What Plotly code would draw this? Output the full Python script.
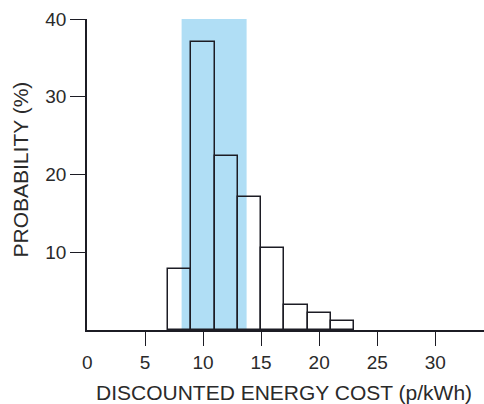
import plotly.graph_objects as go

# Data
bin_starts = [7, 9, 11, 13, 15, 17, 19, 21]
bin_width = 2
probability = [7.8, 37.0, 22.4, 17.1, 10.5, 3.2, 2.2, 1.1]
shade_range = [8.15, 13.75]
x_ticks = [5, 10, 15, 20, 25, 30]
y_ticks = [10, 20, 30, 40]

centers = [s + bin_width / 2 for s in bin_starts]

font_family = "Liberation Sans, Arial, sans-serif"
text_color = "#2a2a2a"
line_color = "#1c1c24"

W, H = 484, 404
L, R, T, B = 87, 0, 19, 74
plot_w = W - L - R
plot_h = H - T - B

def px_x(p):
    return (p - L) / plot_w

def px_y(p):
    return (H - B - p) / plot_h

fig = go.Figure()
fig.add_trace(go.Bar(
    x=centers, y=probability, width=[bin_width] * len(centers),
    marker=dict(color="rgba(0,0,0,0)", line=dict(color=line_color, width=1.5)),
    showlegend=False, hoverinfo="x+y",
))

fig.add_shape(type="rect", xref="x", yref="y",
              x0=shade_range[0], x1=shade_range[1], y0=0, y1=40,
              fillcolor="#b0def5", line=dict(width=0), layer="below")

fig.update_layout(
    width=W, height=H,
    margin=dict(l=L, r=R, t=T, b=B, pad=0),
    paper_bgcolor="white", plot_bgcolor="white",
    font=dict(family=font_family, size=19, color=text_color),
    bargap=0,
    xaxis=dict(range=[0, 34.2], tickvals=x_ticks, ticks="outside", ticklen=14,
               tickwidth=1.3, tickcolor=line_color, showline=True, linecolor=line_color,
               linewidth=1.5, showgrid=False, zeroline=False, fixedrange=True,
               tickfont=dict(size=19)),
    yaxis=dict(range=[0, 40], tickvals=y_ticks, ticks="outside", ticklen=15,
               tickwidth=1.3, tickcolor=line_color, showline=True, linecolor=line_color,
               linewidth=1.5, showgrid=False, zeroline=False, fixedrange=True,
               tickfont=dict(size=19)),
    annotations=[
        dict(text="0", x=0, y=px_y(362), xref="x", yref="paper",
             xanchor="center", yanchor="middle", showarrow=False, font=dict(size=19)),
        dict(text="DISCOUNTED ENERGY COST (p/kWh)", x=px_x(284), y=px_y(392),
             xref="paper", yref="paper", xanchor="center", yanchor="middle",
             showarrow=False, font=dict(size=21)),
        dict(text="PROBABILITY (%)", x=px_x(19.5), y=px_y(170), xref="paper", yref="paper",
             xanchor="center", yanchor="middle",
             showarrow=False, textangle=-90, font=dict(size=21)),
    ],
)

fig.write_html("out.html", config={"displayModeBar": False},
               post_script="document.body.style.margin='0';document.body.style.overflow='hidden';")
